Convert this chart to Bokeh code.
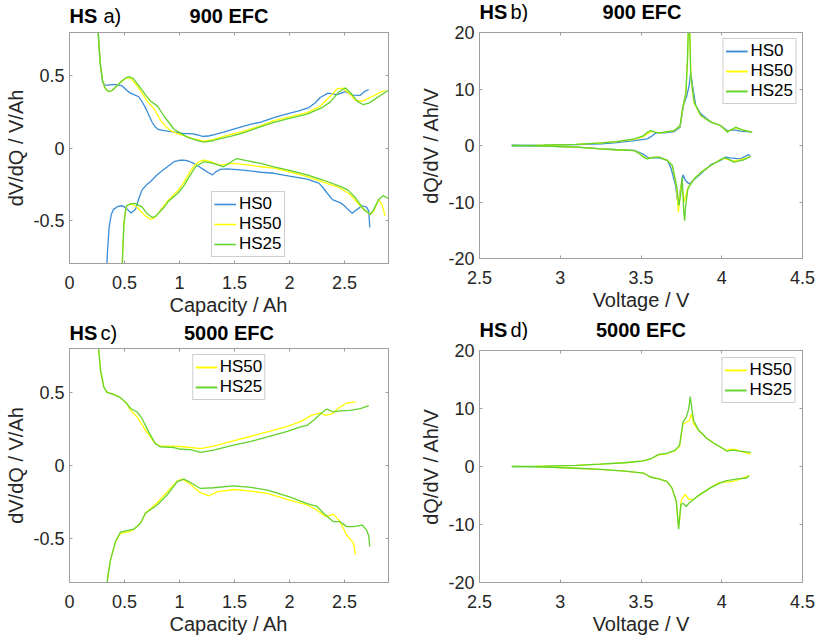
from bokeh.plotting import figure
from bokeh.layouts import row, column
from bokeh.models import FixedTicker, LinearAxis, Range1d, Label
from bokeh.embed import file_html
from bokeh.resources import INLINE

# ---------------- data ----------------
# tick positions and labels
cap_ticks = [0, 0.5, 1, 1.5, 2, 2.5]
cap_tick_labels = ["0", "0.5", "1", "1.5", "2", "2.5"]
dvdq_ticks = [-0.5, 0, 0.5]
dvdq_tick_labels = ["-0.5", "0", "0.5"]
volt_ticks = [2.5, 3, 3.5, 4, 4.5]
volt_tick_labels = ["2.5", "3", "3.5", "4", "4.5"]
dqdv_ticks = [-20, -10, 0, 10, 20]
dqdv_tick_labels = ["-20", "-10", "0", "10", "20"]

# (a) dV/dQ at 900 EFC -- charge (upper) and discharge (lower) branches
a_hs0_chg_q = [0.25, 0.265, 0.28, 0.30, 0.32, 0.35, 0.40, 0.45, 0.48, 0.52, 0.555, 0.60, 0.63, 0.66, 0.69, 0.72,
               0.75, 0.78, 0.81, 0.86, 0.92, 0.98, 1.04, 1.08, 1.12, 1.17, 1.21, 1.26, 1.30, 1.35, 1.40, 1.47,
               1.555, 1.65, 1.74, 1.858, 1.97, 2.085, 2.176, 2.23, 2.28, 2.35, 2.43, 2.51, 2.57, 2.64, 2.68, 2.72]
a_hs0_chg_v = [0.95, 0.75, 0.58, 0.46, 0.435, 0.435, 0.44, 0.435, 0.43, 0.40, 0.38, 0.365, 0.355, 0.32, 0.28, 0.23,
               0.18, 0.145, 0.127, 0.12, 0.114, 0.108, 0.10, 0.10, 0.098, 0.09, 0.08, 0.083, 0.09, 0.10, 0.11, 0.125,
               0.145, 0.165, 0.18, 0.21, 0.235, 0.257, 0.28, 0.31, 0.35, 0.38, 0.37, 0.39, 0.366, 0.364, 0.39, 0.405]
a_hs0_dis_q = [0.335, 0.345, 0.36, 0.38, 0.40, 0.44, 0.48, 0.52, 0.56, 0.60, 0.63, 0.66, 0.70, 0.74, 0.79, 0.83,
               0.89, 0.95, 1.00, 1.04, 1.08, 1.13, 1.18, 1.22, 1.26, 1.30, 1.33, 1.37, 1.43, 1.49, 1.60, 1.74,
               1.858, 2.00, 2.16, 2.266, 2.30, 2.34, 2.39, 2.43, 2.464, 2.50, 2.53, 2.57, 2.615, 2.66, 2.70, 2.72, 2.73]
a_hs0_dis_v = [-0.9, -0.72, -0.55, -0.46, -0.425, -0.405, -0.40, -0.42, -0.45, -0.425, -0.35, -0.29, -0.255, -0.23,
               -0.19, -0.165, -0.13, -0.095, -0.085, -0.084, -0.09, -0.107, -0.13, -0.15, -0.17, -0.186, -0.165,
               -0.148, -0.145, -0.148, -0.155, -0.168, -0.175, -0.195, -0.216, -0.243, -0.27, -0.31, -0.357, -0.37,
               -0.38, -0.40, -0.425, -0.452, -0.425, -0.40, -0.41, -0.436, -0.55]

a_hs50_chg_q = [0.25, 0.265, 0.28, 0.30, 0.32, 0.34, 0.36, 0.39, 0.43, 0.47, 0.52, 0.56, 0.615, 0.66, 0.705, 0.77,
                0.83, 0.88, 0.92, 0.98, 1.04, 1.13, 1.22, 1.31, 1.40, 1.49, 1.60, 1.74, 1.858, 2.00, 2.16, 2.28,
                2.32, 2.36, 2.40, 2.43, 2.48, 2.54, 2.60, 2.66, 2.71, 2.76, 2.81, 2.87]
a_hs50_chg_v = [0.95, 0.75, 0.58, 0.47, 0.42, 0.40, 0.39, 0.40, 0.43, 0.46, 0.485, 0.48, 0.43, 0.38, 0.325, 0.27,
                0.19, 0.145, 0.12, 0.10, 0.086, 0.064, 0.048, 0.06, 0.08, 0.098, 0.12, 0.155, 0.19, 0.215, 0.245,
                0.29, 0.32, 0.35, 0.38, 0.41, 0.415, 0.38, 0.33, 0.325, 0.34, 0.36, 0.38, 0.40]
a_hs50_dis_q = [0.475, 0.485, 0.495, 0.51, 0.52, 0.545, 0.57, 0.615, 0.65, 0.69, 0.736, 0.77, 0.80, 0.85, 0.89,
                0.94, 0.98, 1.03, 1.07, 1.10, 1.13, 1.17, 1.21, 1.25, 1.28, 1.33, 1.37, 1.43, 1.49, 1.60, 1.74,
                1.858, 2.00, 2.16, 2.30, 2.46, 2.55, 2.63, 2.69, 2.736, 2.767, 2.81, 2.84, 2.87]
a_hs50_dis_v = [-0.9, -0.7, -0.52, -0.43, -0.40, -0.39, -0.39, -0.41, -0.44, -0.47, -0.493, -0.485, -0.46, -0.41,
                -0.368, -0.33, -0.30, -0.25, -0.198, -0.16, -0.125, -0.10, -0.084, -0.088, -0.095, -0.108, -0.118,
                -0.112, -0.107, -0.115, -0.13, -0.14, -0.165, -0.198, -0.235, -0.277, -0.32, -0.39, -0.436, -0.46,
                -0.436, -0.357, -0.39, -0.47]

a_hs25_chg_q = [0.25, 0.265, 0.28, 0.30, 0.32, 0.34, 0.36, 0.39, 0.43, 0.47, 0.51, 0.54, 0.58, 0.645, 0.69, 0.736,
                0.80, 0.86, 0.95, 1.07, 1.15, 1.22, 1.31, 1.40, 1.49, 1.60, 1.74, 1.858, 2.00, 2.16, 2.297, 2.37,
                2.45, 2.51, 2.57, 2.615, 2.67, 2.72, 2.76, 2.83, 2.90]
a_hs25_chg_v = [0.95, 0.75, 0.58, 0.47, 0.42, 0.40, 0.39, 0.40, 0.43, 0.46, 0.485, 0.495, 0.48, 0.416, 0.37, 0.325,
                0.29, 0.22, 0.13, 0.075, 0.055, 0.04, 0.052, 0.07, 0.086, 0.11, 0.148, 0.177, 0.205, 0.234, 0.28,
                0.318, 0.39, 0.416, 0.37, 0.325, 0.30, 0.31, 0.33, 0.365, 0.40]
a_hs25_dis_q = [0.475, 0.485, 0.495, 0.51, 0.52, 0.56, 0.60, 0.66, 0.70, 0.75, 0.78, 0.81, 0.86, 0.90, 0.99, 1.04,
                1.08, 1.145, 1.22, 1.31, 1.40, 1.46, 1.52, 1.61, 1.74, 1.858, 2.00, 2.16, 2.30, 2.46, 2.53, 2.60,
                2.675, 2.736, 2.767, 2.81, 2.85, 2.90]
a_hs25_dis_v = [-0.9, -0.7, -0.52, -0.43, -0.40, -0.385, -0.385, -0.41, -0.45, -0.48, -0.475, -0.45, -0.41, -0.368,
                -0.31, -0.26, -0.21, -0.13, -0.095, -0.107, -0.13, -0.10, -0.073, -0.088, -0.107, -0.13, -0.155,
                -0.186, -0.22, -0.266, -0.29, -0.345, -0.425, -0.46, -0.425, -0.357, -0.33, -0.35]

# (b) dQ/dV at 900 EFC
b_hs0_chg_u = [2.70, 2.9, 3.1, 3.254, 3.35, 3.459, 3.54, 3.572, 3.593, 3.644, 3.706, 3.742, 3.763, 3.784, 3.798,
               3.808, 3.819, 3.839, 3.87, 3.932, 3.993, 4.034, 4.075, 4.116, 4.188]
b_hs0_chg_d = [0, 0.06, 0.15, 0.3, 0.5, 0.88, 1.18, 1.77, 2.24, 2.24, 2.48, 3.24, 7.08, 8.85, 10.6, 13.0, 10.6,
               7.08, 5.6, 4.2, 3.54, 2.65, 2.77, 2.54, 2.36]
b_hs0_dis_u = [2.70, 2.9, 3.1, 3.254, 3.35, 3.459, 3.51, 3.54, 3.561, 3.612, 3.663, 3.684, 3.714, 3.73, 3.745,
               3.76, 3.776, 3.798, 3.87, 3.932, 3.993, 4.024, 4.05, 4.116, 4.167, 4.178]
b_hs0_dis_d = [0, -0.12, -0.3, -0.6, -0.75, -0.88, -1.47, -2.06, -2.18, -2.18, -2.65, -3.83, -7.08, -10.6, -7.67,
               -5.2, -6.2, -6.8, -5.0, -3.4, -2.65, -2.06, -2.18, -2.36, -1.6, -2.06]

b_hs50_chg_u = [2.853, 3.0, 3.1, 3.254, 3.35, 3.459, 3.51, 3.54, 3.565, 3.59, 3.62, 3.706, 3.742, 3.757, 3.778,
                3.788, 3.794, 3.80, 3.81, 3.829, 3.87, 3.932, 3.993, 4.034, 4.085, 4.126, 4.188]
b_hs50_chg_d = [0, 0.12, 0.2, 0.45, 0.68, 1.1, 1.5, 2.1, 2.5, 2.36, 2.24, 2.65, 3.4, 6.3, 9.2, 15.0, 22.0, 22.0,
                11.8, 7.5, 5.3, 4.2, 3.54, 2.45, 3.1, 2.77, 2.36]
b_hs50_dis_u = [2.853, 3.0, 3.1, 3.254, 3.35, 3.459, 3.49, 3.52, 3.54, 3.572, 3.612, 3.663, 3.694, 3.72, 3.732,
                3.74, 3.751, 3.76, 3.767, 3.776, 3.79, 3.829, 3.87, 3.932, 3.993, 4.02, 4.065, 4.12, 4.178]
b_hs50_dis_d = [0, -0.2, -0.3, -0.6, -0.75, -0.9, -1.4, -2.1, -2.3, -2.12, -2.06, -2.65, -3.54, -7.4, -11.8, -9.0,
                -6.5, -8.5, -10.0, -9.0, -7.5, -5.9, -4.8, -3.54, -2.5, -2.3, -2.77, -2.5, -1.95]

b_hs25_chg_u = [2.70, 2.9, 3.1, 3.254, 3.35, 3.459, 3.51, 3.54, 3.561, 3.585, 3.612, 3.706, 3.742, 3.757, 3.778,
                3.788, 3.794, 3.80, 3.808, 3.829, 3.87, 3.932, 3.993, 4.034, 4.085, 4.126, 4.188]
b_hs25_chg_d = [0, 0.08, 0.2, 0.47, 0.7, 1.18, 1.65, 2.36, 2.65, 2.36, 2.24, 2.65, 3.54, 6.5, 9.4, 15.3, 22.0, 22.0,
                12.4, 7.67, 5.3, 4.13, 3.54, 2.36, 3.24, 2.77, 2.36]
b_hs25_dis_u = [2.70, 2.9, 3.1, 3.254, 3.35, 3.459, 3.49, 3.52, 3.54, 3.572, 3.612, 3.663, 3.694, 3.72, 3.735,
                3.745, 3.755, 3.765, 3.77, 3.776, 3.79, 3.829, 3.87, 3.932, 3.993, 4.014, 4.04, 4.075, 4.136, 4.178]
b_hs25_dis_d = [0, -0.12, -0.3, -0.6, -0.75, -0.9, -1.47, -2.18, -2.36, -2.12, -2.06, -2.65, -3.54, -7.08, -10.6,
                -8.85, -5.6, -11.8, -13.3, -10.9, -7.67, -5.9, -4.8, -3.54, -2.5, -2.18, -2.36, -2.95, -2.54, -1.95]

# (c) dV/dQ at 5000 EFC
c_hs50_chg_q = [0.25, 0.265, 0.282, 0.312, 0.342, 0.40, 0.464, 0.524, 0.555, 0.615, 0.66, 0.70, 0.74, 0.78, 0.83,
                0.90, 1.01, 1.10, 1.19, 1.31, 1.49, 1.65, 1.80, 1.98, 2.10, 2.20, 2.28, 2.33, 2.39, 2.46, 2.52,
                2.58, 2.60]
c_hs50_chg_v = [0.95, 0.8, 0.65, 0.536, 0.50, 0.486, 0.464, 0.42, 0.377, 0.332, 0.28, 0.23, 0.19, 0.15, 0.132,
                0.132, 0.13, 0.123, 0.116, 0.132, 0.168, 0.20, 0.23, 0.268, 0.30, 0.343, 0.359, 0.343, 0.355, 0.40,
                0.427, 0.434, 0.435]
c_hs50_dis_q = [0.336, 0.35, 0.373, 0.418, 0.464, 0.555, 0.585, 0.645, 0.69, 0.797, 0.888, 0.979, 1.025, 1.09,
                1.19, 1.27, 1.34, 1.49, 1.65, 1.80, 2.00, 2.16, 2.25, 2.33, 2.40, 2.46, 2.52, 2.58, 2.60]
c_hs50_dis_v = [-0.85, -0.75, -0.645, -0.52, -0.464, -0.45, -0.436, -0.395, -0.327, -0.255, -0.18, -0.105, -0.093,
                -0.123, -0.186, -0.207, -0.18, -0.164, -0.175, -0.19, -0.236, -0.27, -0.305, -0.35, -0.334, -0.384,
                -0.475, -0.527, -0.61]

c_hs25_chg_q = [0.25, 0.265, 0.282, 0.312, 0.342, 0.40, 0.464, 0.524, 0.555, 0.615, 0.66, 0.72, 0.78, 0.827, 0.95,
                1.01, 1.10, 1.19, 1.31, 1.49, 1.65, 1.80, 1.98, 2.10, 2.16, 2.22, 2.30, 2.34, 2.40, 2.46, 2.55,
                2.645, 2.72]
c_hs25_chg_v = [0.95, 0.8, 0.65, 0.536, 0.50, 0.486, 0.464, 0.42, 0.39, 0.366, 0.32, 0.23, 0.15, 0.127, 0.123,
                0.111, 0.109, 0.089, 0.105, 0.139, 0.165, 0.195, 0.234, 0.264, 0.275, 0.31, 0.366, 0.386, 0.366,
                0.373, 0.377, 0.389, 0.41]
c_hs25_dis_q = [0.336, 0.35, 0.373, 0.418, 0.464, 0.555, 0.585, 0.645, 0.69, 0.797, 0.888, 0.979, 1.04, 1.10, 1.19,
                1.31, 1.49, 1.65, 1.80, 2.00, 2.16, 2.25, 2.31, 2.40, 2.46, 2.52, 2.58, 2.66, 2.70, 2.72, 2.73]
c_hs25_dis_v = [-0.85, -0.75, -0.645, -0.52, -0.455, -0.44, -0.436, -0.395, -0.327, -0.27, -0.20, -0.11, -0.093,
                -0.116, -0.157, -0.152, -0.139, -0.15, -0.168, -0.214, -0.26, -0.28, -0.327, -0.384, -0.384, -0.418,
                -0.418, -0.407, -0.44, -0.48, -0.555]

# (d) dQ/dV at 5000 EFC
d_hs50_chg_u = [2.85, 3.0, 3.1, 3.247, 3.4, 3.516, 3.567, 3.609, 3.66, 3.712, 3.739, 3.76, 3.774, 3.80, 3.811,
                3.826, 3.857, 3.909, 3.96, 4.0, 4.03, 4.05, 4.09, 4.13, 4.18]
d_hs50_chg_d = [0, 0.12, 0.2, 0.4, 0.65, 0.96, 1.42, 2.0, 2.2, 2.75, 3.5, 7.4, 7.54, 7.94, 9.07, 7.37, 6.2, 4.82,
                3.85, 3.23, 2.7, 3.0, 2.9, 2.5, 2.15]
d_hs50_dis_u = [2.85, 3.0, 3.1, 3.247, 3.4, 3.516, 3.557, 3.609, 3.66, 3.691, 3.718, 3.733, 3.751, 3.774, 3.795,
                3.826, 3.846, 3.929, 3.98, 4.02, 4.07, 4.13, 4.17]
d_hs50_dis_d = [0, -0.2, -0.3, -0.5, -0.8, -1.13, -1.81, -2.15, -2.55, -3.68, -5.9, -10.5, -5.67, -4.82, -5.67,
                -5.67, -5.2, -3.68, -2.83, -2.7, -2.55, -2.0, -1.53]

d_hs25_chg_u = [2.70, 2.9, 3.1, 3.247, 3.4, 3.516, 3.567, 3.609, 3.66, 3.712, 3.739, 3.76, 3.78, 3.795, 3.805,
                3.815, 3.826, 3.857, 3.909, 3.96, 4.0, 4.03, 4.07, 4.11, 4.18]
d_hs25_chg_d = [0, 0.08, 0.2, 0.4, 0.65, 0.96, 1.42, 2.1, 2.27, 2.83, 3.68, 7.65, 8.5, 9.9, 12.07, 9.9, 7.94, 6.24,
                4.82, 3.85, 3.23, 2.66, 2.83, 2.66, 2.44]
d_hs25_dis_u = [2.70, 2.9, 3.1, 3.247, 3.4, 3.516, 3.557, 3.609, 3.66, 3.691, 3.718, 3.733, 3.747, 3.763, 3.78,
                3.795, 3.846, 3.929, 3.991, 4.03, 4.11, 4.154, 4.17]
d_hs25_dis_d = [0, -0.12, -0.3, -0.5, -0.8, -1.13, -1.81, -2.15, -2.55, -3.68, -5.95, -10.8, -6.5, -6.4, -6.9,
                -6.4, -5.2, -3.68, -2.83, -2.44, -2.1, -1.98, -1.53]

# ---------------- styling ----------------
FONT = "Liberation Sans"
TXT = "#262626"
BOX = "#9e9e9e"
COLORS = {"HS0": "#3A8DD6", "HS50": "#FFFF00", "HS25": "#62D22E"}
LW = 1.3


def style_axis(ax, ticks, labels, show_labels=True):
    ax.ticker = FixedTicker(ticks=ticks)
    ax.axis_line_color = BOX
    ax.major_tick_line_color = BOX
    ax.major_tick_in = 3
    ax.major_tick_out = 0
    ax.minor_tick_line_color = None
    ax.major_label_text_font = FONT
    ax.axis_label_text_font = FONT
    ax.axis_label_text_font_size = "20px"
    ax.axis_label_text_font_style = "normal"
    ax.axis_label_text_color = TXT
    if show_labels:
        ax.major_label_overrides = {float(t): s for t, s in zip(ticks, labels)}
        ax.major_label_text_color = TXT
        ax.major_label_text_font_size = "18px"
    else:
        # tick marks only on the opposite sides of the box
        ax.major_label_text_color = None
        ax.major_label_text_font_size = "0px"
        ax.major_label_standoff = 0
        ax.axis_label_standoff = 0


def make_panel(width, height, borders, xr, yr, xt, xl, yt, yl, xlabel, ylabel):
    left, right, top, bottom = borders
    p = figure(width=width, height=height, x_range=Range1d(*xr), y_range=Range1d(*yr),
               output_backend="svg", toolbar_location=None, title=None,
               min_border_left=left, min_border_right=right,
               min_border_top=top, min_border_bottom=bottom)
    p.grid.visible = False
    p.outline_line_color = BOX
    p.background_fill_color = "white"
    p.border_fill_color = "white"
    style_axis(p.xaxis[0], xt, xl)
    style_axis(p.yaxis[0], yt, yl)
    p.xaxis[0].axis_label = xlabel
    p.yaxis[0].axis_label = ylabel
    p.xaxis[0].major_label_standoff = 12
    p.xaxis[0].axis_label_standoff = 2
    p.yaxis[0].major_label_standoff = 5
    p.yaxis[0].axis_label_standoff = 3
    top_ax = LinearAxis()
    style_axis(top_ax, xt, xl, show_labels=False)
    p.add_layout(top_ax, "above")
    right_ax = LinearAxis()
    style_axis(right_ax, yt, yl, show_labels=False)
    p.add_layout(right_ax, "right")
    return p


def make_header(width, height, left, right, tag, tag_dx, title, base):
    # a strip above each panel whose frame lines up with the panel's frame
    h = figure(width=width, height=height, x_range=Range1d(0, 1), y_range=Range1d(0, 1),
               x_axis_type=None, y_axis_type=None, output_backend="svg", toolbar_location=None,
               title=None, min_border_left=left, min_border_right=right,
               min_border_top=0, min_border_bottom=0)
    h.grid.visible = False
    h.outline_line_color = None
    h.background_fill_color = "white"
    h.border_fill_color = "white"
    frame_w = width - left - right
    common = dict(x_units="screen", y_units="screen", y=base, text_font=FONT,
                  text_font_size="20px", text_baseline="bottom", text_color="black")
    h.add_layout(Label(x=0, text="HS", text_font_style="bold", **common))
    h.add_layout(Label(x=tag_dx, text=tag, **common))
    h.add_layout(Label(x=frame_w / 2, text=title, text_font_style="bold", text_align="center", **common))
    return h


def style_legend(p, location, margin):
    lg = p.legend[0]
    lg.location = location
    lg.margin = margin
    lg.padding = 2
    lg.spacing = 0
    lg.glyph_width = 22
    lg.glyph_height = 18
    lg.label_height = 18
    lg.label_standoff = 3
    lg.label_text_font = FONT
    lg.label_text_font_size = "17px"
    lg.label_text_color = "black"
    lg.border_line_color = BOX
    lg.border_line_width = 1
    lg.background_fill_color = "white"
    lg.background_fill_alpha = 1.0


def draw(p, name, x, y):
    p.line(x, y, line_color=COLORS[name], line_width=LW, legend_label=name)


# ---------------- (a) ----------------
ha = make_header(409, 28, 69, 21, "a)", 34, "900 EFC", 2)
pa = make_panel(409, 290, (69, 21, 4, 54), (0, 2.9), (-0.8, 0.8), cap_ticks, cap_tick_labels,
                dvdq_ticks, dvdq_tick_labels, "Capacity / Ah", "dV/dQ / V/Ah")
draw(pa, "HS0", a_hs0_chg_q, a_hs0_chg_v)
draw(pa, "HS0", a_hs0_dis_q, a_hs0_dis_v)
draw(pa, "HS50", a_hs50_chg_q, a_hs50_chg_v)
draw(pa, "HS50", a_hs50_dis_q, a_hs50_dis_v)
draw(pa, "HS25", a_hs25_chg_q, a_hs25_chg_v)
draw(pa, "HS25", a_hs25_dis_q, a_hs25_dis_v)
style_legend(pa, (142, 6), 0)

# ---------------- (b) ----------------
hb = make_header(409, 22, 69, 15, "b)", 31, "900 EFC", 0)
pb = make_panel(409, 296, (69, 15, 10, 60), (2.5, 4.5), (-20, 20), volt_ticks, volt_tick_labels,
                dqdv_ticks, dqdv_tick_labels, "Voltage / V", "dQ/dV / Ah/V")
draw(pb, "HS0", b_hs0_chg_u, b_hs0_chg_d)
draw(pb, "HS0", b_hs0_dis_u, b_hs0_dis_d)
draw(pb, "HS50", b_hs50_chg_u, b_hs50_chg_d)
draw(pb, "HS50", b_hs50_dis_u, b_hs50_dis_d)
draw(pb, "HS25", b_hs25_chg_u, b_hs25_chg_d)
draw(pb, "HS25", b_hs25_dis_u, b_hs25_dis_d)
style_legend(pb, "top_right", 6)

# ---------------- (c) ----------------
hc = make_header(409, 26, 69, 21, "c)", 31, "5000 EFC", 1)
pc = make_panel(409, 293, (69, 21, 4, 54), (0, 2.9), (-0.8, 0.8), cap_ticks, cap_tick_labels,
                dvdq_ticks, dvdq_tick_labels, "Capacity / Ah", "dV/dQ / V/Ah")
draw(pc, "HS50", c_hs50_chg_q, c_hs50_chg_v)
draw(pc, "HS50", c_hs50_dis_q, c_hs50_dis_v)
draw(pc, "HS25", c_hs25_chg_q, c_hs25_chg_v)
draw(pc, "HS25", c_hs25_dis_q, c_hs25_dis_v)
style_legend(pc, "top_center", 6)

# ---------------- (d) ----------------
hd = make_header(409, 22, 70, 16, "d)", 31, "5000 EFC", 0)
pd_ = make_panel(409, 297, (70, 16, 10, 54), (2.5, 4.5), (-20, 20), volt_ticks, volt_tick_labels,
                 dqdv_ticks, dqdv_tick_labels, "Voltage / V", "dQ/dV / Ah/V")
draw(pd_, "HS50", d_hs50_chg_u, d_hs50_chg_d)
draw(pd_, "HS50", d_hs50_dis_u, d_hs50_dis_d)
draw(pd_, "HS25", d_hs25_chg_u, d_hs25_chg_d)
draw(pd_, "HS25", d_hs25_dis_u, d_hs25_dis_d)
style_legend(pd_, "top_right", 7)

layout = row(column(ha, pa, hc, pc), column(hb, pb, hd, pd_))
open("out.html", "w").write(file_html(layout, INLINE))
